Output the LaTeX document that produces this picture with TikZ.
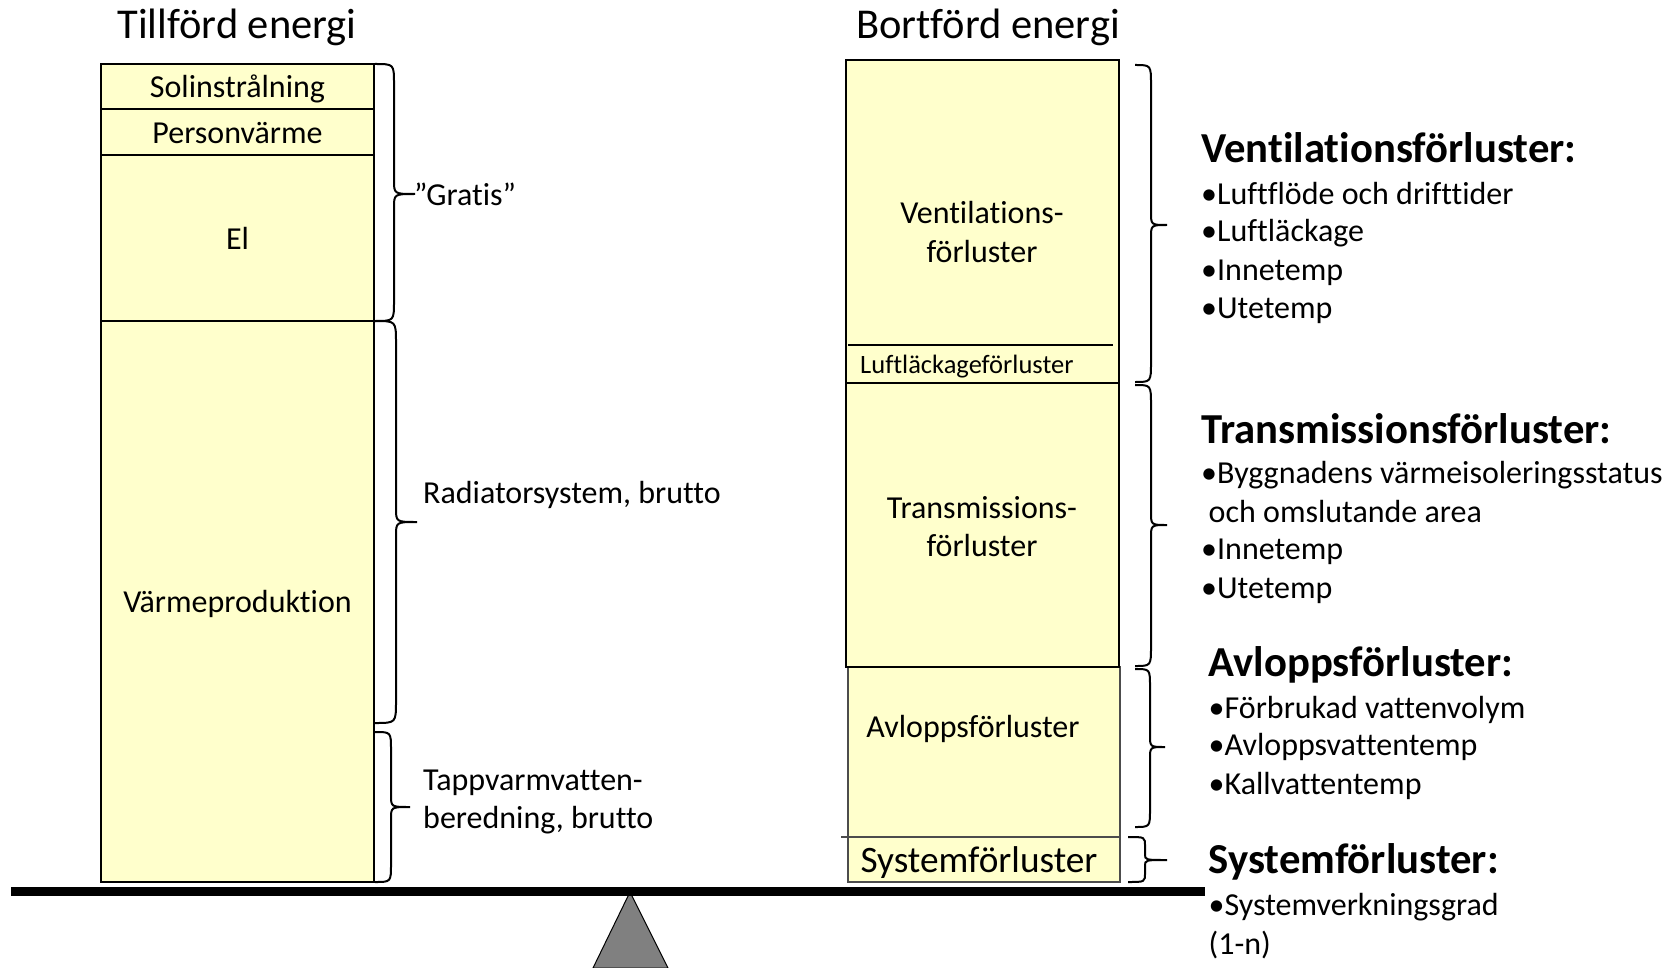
\documentclass[tikz,border=0pt]{standalone}
\usepackage{fontspec}
\setmainfont{Carlito}[Ligatures=NoCommon]
\definecolor{boxyellow}{HTML}{FFFFCC}
\definecolor{pivotgray}{HTML}{808080}
% curly brace: x0, x of the spine, x of the tip, y top, y tip, y bottom, end radius, tip radius
\newcommand\drawcurly[8]{%
  \draw[bracestyle] (#1,#4) .. controls (#2,#4) .. (#2,{#4+#7})
    -- (#2,{#5-#8}) .. controls (#2,#5) .. (#3,#5)
    .. controls (#2,#5) .. (#2,{#5+#8})
    -- (#2,{#6-#7}) .. controls (#2,#6) .. (#1,#6);
}
\tikzset{
  cell/.style={draw=black, line width=2pt, fill=boxyellow, inner sep=0pt, outer sep=0pt},
  softcell/.style={draw=black!70, line width=1.5pt, fill=boxyellow, inner sep=0pt, outer sep=0pt},
  % the node centre sits half a cap height above the baseline
  lbl/.style={inner sep=0pt, text height=#1, text depth=0pt},
  head/.style={lbl=29.8pt, font=\fontsize{42.5}{48}\selectfont},
  body/.style={lbl=22.4pt, font=\fontsize{32}{38}\selectfont},
  small/.style={lbl=18.5pt, font=\fontsize{26.5}{30}\selectfont},
  big/.style={lbl=26.1pt, font=\fontsize{37.3}{42}\selectfont},
  bhead/.style={lbl=29.9pt, anchor=west, font=\bfseries\fontsize{42.7}{48}\selectfont},
  item/.style={lbl=22.4pt, anchor=west, font=\fontsize{32}{38}\selectfont},
  bracestyle/.style={draw=black, line width=2pt},
}
\begin{document}
\begin{tikzpicture}[x=1pt,y=-1pt]
\useasboundingbox (0,0) rectangle (1680,968);

% column titles
\node[head] (tin) at (237,24) {Tillförd energi};
\node[head] (tout) at (988,24) {Bortförd energi};

% supplied energy column
\node[cell, body, minimum width=273pt, minimum height=45pt] (sol) at (237.5,86.5) {Solinstrålning};
\node[cell, body, minimum width=273pt, minimum height=46pt] (pers) at (237.5,132) {Personvärme};
\node[cell, body, minimum width=273pt, minimum height=166pt] (el) at (237.5,238) {El};
\node[cell, body, minimum width=273pt, minimum height=561pt] (varm) at (237.5,601.5) {Värmeproduktion};

% removed energy column
\node[softcell, minimum width=272pt, minimum height=170pt] (avl) at (984,752) {};
\node[softcell, minimum width=272pt, minimum height=45pt] (sys) at (984,859.5) {};
\draw[draw=black!70, line width=1.5pt] (841,837) -- (sys.north west);
\node[cell, minimum width=273pt, minimum height=323pt] (vent) at (982.5,221.5) {};
\node[cell, minimum width=273pt, minimum height=284pt] (trans) at (982.5,525) {};
\draw[line width=1.5pt] (848,345) -- (1113,345);

\node[body] (ventA) at (982,212) {Ventilations-};
\node[body] (ventB) at (982,251) {förluster};
\node[small, anchor=west] (luft) at (860,364) {Luftläckageförluster};
\node[body] (transA) at (982,507) {Transmissions-};
\node[body] (transB) at (982,545) {förluster};
\node[body] (avlT) at (973,726) {Avloppsförluster};
\node[big] (sysT) at (979,859) {Systemförluster};

% braces on the supplied side
\drawcurly{375}{394}{415}{64}{194}{321}{20}{14}
\drawcurly{375}{396}{417}{321}{522}{723}{22}{14}
\drawcurly{375}{391}{410}{732}{807}{882}{18}{12}
\node[body, anchor=west] (gratis) at (414,194) {”Gratis”};
\node[body, anchor=west] (rad) at (423,492) {Radiatorsystem, brutto};
\node[body, anchor=west] (tapA) at (423,779) {Tappvarmvatten-};
\node[body, anchor=west] (tapB) at (423,817.5) {beredning, brutto};

% braces on the removed side
\drawcurly{1135}{1151}{1167}{65}{225}{382}{20}{13}
\drawcurly{1135}{1151}{1167}{385}{525}{666}{20}{13}
\drawcurly{1135}{1150}{1165}{669}{747}{827}{18}{12}
\drawcurly{1128}{1145}{1167}{837}{860}{882}{9}{6}

% explanations
\node[bhead] (hv) at (1201,148) {Ventilationsförluster:};
\node[item] (v1) at (1201,193) {•Luftflöde och drifttider};
\node[item] (v2) at (1201,230.5) {•Luftläckage};
\node[item] (v3) at (1201,269) {•Innetemp};
\node[item] (v4) at (1201,307.5) {•Utetemp};

\node[bhead] (ht) at (1201,428.5) {Transmissionsförluster:};
\node[item] (t1) at (1201,472.5) {•Byggnadens värmeisoleringsstatus};
\node[item] (t2) at (1208.5,511) {och omslutande area};
\node[item] (t3) at (1201,548.5) {•Innetemp};
\node[item] (t4) at (1201,587) {•Utetemp};

\node[bhead] (ha) at (1208.5,662) {Avloppsförluster:};
\node[item] (a1) at (1208.5,707) {•Förbrukad vattenvolym};
\node[item] (a2) at (1208.5,744.6) {•Avloppsvattentemp};
\node[item] (a3) at (1208.5,783) {•Kallvattentemp};

\node[bhead] (hs) at (1208.5,859) {Systemförluster:};
\node[item] (s1) at (1208.5,904) {•Systemverkningsgrad};
\node[item] (s2) at (1208.5,943) {(1-n)};

% balance: pivot and beam
\draw[fill=pivotgray, draw=black, line width=1pt] (630,892) coordinate (apex) -- (668,968) -- (593,968) -- cycle;
\fill[black] (11,887) rectangle (1205,896);
\end{tikzpicture}
\end{document}
